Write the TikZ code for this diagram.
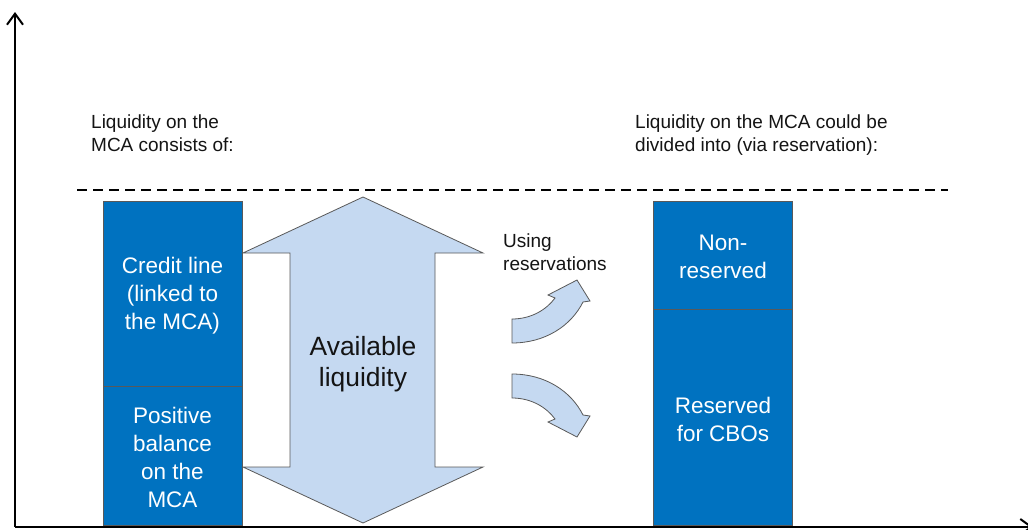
\documentclass[tikz,border=0pt]{standalone}
\usepackage{fontspec}
\setmainfont{Liberation Sans}
\usetikzlibrary{arrows.meta}
\definecolor{boxblue}{RGB}{0,114,192}
\definecolor{lightblue}{RGB}{197,217,241}
\definecolor{edgegray}{RGB}{89,89,89}
\definecolor{txtdark}{RGB}{20,20,20}
\begin{document}
\begin{tikzpicture}[x=1pt,y=-1pt,
  blockbox/.style={draw=edgegray, line width=0.8pt, fill=boxblue,
    inner sep=0pt, minimum width=139pt},
  boxtext/.style={text=white, align=center, inner sep=0pt,
    font=\fontsize{22.5}{28}\selectfont},
  hdr/.style={anchor=west, align=left, inner sep=0pt, text=txtdark,
    font=\fontsize{19}{23}\selectfont},
  shapefill/.style={fill=lightblue, draw=edgegray, line width=0.8pt, line join=miter},
  axisline/.style={line width=2pt, line cap=butt,
    -{Straight Barb[length=11pt,width=16pt,line width=2pt]}},
  dashline/.style={line width=2.6pt, dash pattern=on 10pt off 6pt}]
\useasboundingbox (0,0) rectangle (1028,530);
\clip (0,0) rectangle (1028,530);

% headers
\node[hdr] (lhdr) at (91,133) {Liquidity on the\\MCA consists of:};
\node[hdr] (rhdr) at (635,135) {Liquidity on the MCA could be\\divided into (via reservation):};

% dashed line
\coordinate (dl) at (77,190);
\coordinate (dr) at (948,190);
\draw[dashline] (dl) -- (dr);

% left stacked box
\node[blockbox, minimum height=185pt] (credit) at (172.5,293.5) {};
\node[blockbox, minimum height=139pt, anchor=north] (balance) at (credit.south) {};
\node[boxtext] (creditT) at ([yshift=-2.5pt]credit.center) {Credit line\\(linked to\\the MCA)};
\node[boxtext] (balanceT) at ([yshift=-1.5pt]balance.center) {Positive\\balance\\on the\\MCA};

% right stacked box
\node[blockbox, minimum height=108pt] (nonres) at (723,255) {};
\node[blockbox, minimum height=216pt, anchor=north] (res) at (nonres.south) {};
\node[boxtext] (nonresT) at ([yshift=-1.5pt]nonres.center) {Non-\\reserved};
\node[boxtext] (resT) at ([yshift=-2pt]res.center) {Reserved\\for CBOs};

% double arrow
\draw[shapefill] (363,197) -- (483,253) -- (435,253) -- (435,467) -- (483,467)
  -- (363,523) -- (243,467) -- (290,467) -- (290,253) -- (243,253) -- cycle;
\node[inner sep=0pt, align=center, text=txtdark, font=\fontsize{26.4}{31}\selectfont]
  (avail) at (363,364) {Available\\liquidity};

% using reservations
\node[hdr] (using) at (503,252) {Using\\reservations};

% curved arrows
\draw[shapefill] (512,319) .. controls (532,319) and (547,309) .. (555,298)
  -- (548,295) -- (577,280) -- (590,301) -- (583,302)
  .. controls (571,326) and (545,343) .. (512,343) -- cycle;
\draw[shapefill] (512,398) .. controls (532,398) and (547,408) .. (555,419)
  -- (548,422) -- (577,437) -- (590,416) -- (583,415)
  .. controls (571,391) and (545,374) .. (512,374) -- cycle;

% axes
\coordinate (origin) at (15,527);
\coordinate (ytop) at (15,12);
\coordinate (xend) at (1033,527);
\draw[axisline] (origin) -- (ytop);
\draw[axisline] (origin) -- (xend);
\end{tikzpicture}
\end{document}
